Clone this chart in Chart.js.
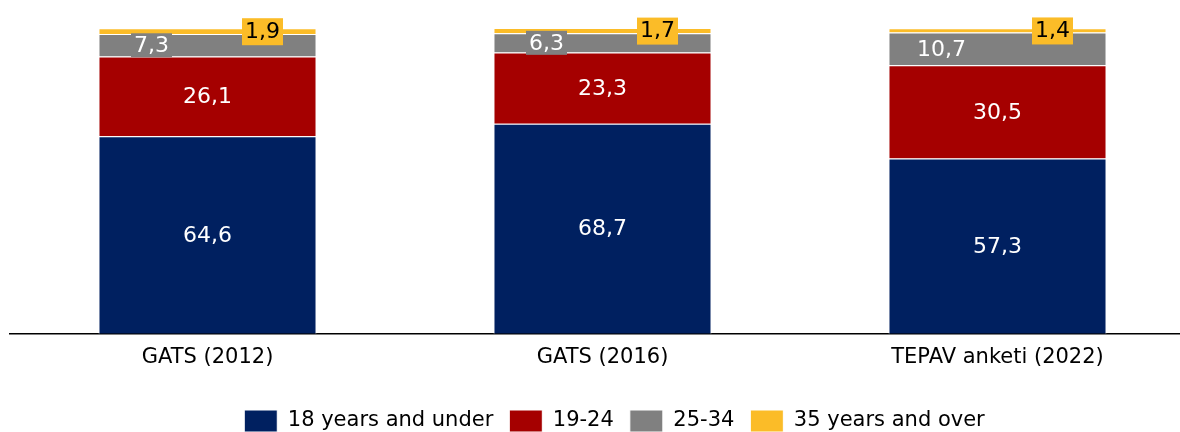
<!DOCTYPE html>
<html>
<head>
<meta charset="utf-8">
<script src="https://cdn.jsdelivr.net/npm/chart.js@4"></script>
<style>
  html, body { margin: 0; padding: 0; background: #fff; overflow: hidden; }
  #wrap { width: 1180px; height: 432px; overflow: hidden; }
</style>
</head>
<body>
<div id="wrap"><canvas id="ageChart" width="1195" height="442"></canvas></div>
<script>
const categories = ["GATS (2012)", "GATS (2016)", "TEPAV anketi (2022)"];
const seriesNames = ["18 years and under", "19-24", "25-34", "35 years and over"];
const under18 = [64.6, 68.7, 57.3];
const age19to24 = [26.1, 23.3, 30.5];
const age25to34 = [7.3, 6.3, 10.7];
const over35 = [1.9, 1.7, 1.4];
const colors = ["#002060", "#A50000", "#808080", "#FBBC28"];

const fmt = v => v.toFixed(1).replace(".", ",");

// value labels on each segment
const segmentLabels = {
    id: "segmentLabels",
    afterDatasetsDraw(chart) {
        const ctx = chart.ctx;
        ctx.save();
        ctx.font = "22px 'DejaVu Sans'";
        ctx.textAlign = "center";
        ctx.textBaseline = "middle";
        chart.data.datasets.forEach((ds, i) => {
            const meta = chart.getDatasetMeta(i);
            meta.data.forEach((bar, j) => {
                const text = fmt(ds.data[j]);
                const cy = (bar.y + bar.base) / 2;
                const w = ctx.measureText(text).width + 6;
                if (i === 3) {
                    const cx = bar.x + 55;
                    ctx.fillStyle = colors[3];
                    ctx.fillRect(cx - w / 2, cy - 13, w, 27);
                    ctx.fillStyle = "#000";
                    ctx.fillText(text, cx, cy + 1);
                } else if (i === 2) {
                    const cx = bar.x - 56;
                    ctx.fillStyle = colors[2];
                    ctx.fillRect(cx - w / 2, cy - 12, w, 24);
                    ctx.fillStyle = "#fff";
                    ctx.fillText(text, cx, cy + 1);
                } else {
                    ctx.fillStyle = "#fff";
                    ctx.fillText(text, bar.x, cy + 1);
                }
            });
        });
        ctx.restore();
    }
};

// legend sits a little right of centre in the original
const shiftLegend = {
    id: "shiftLegend",
    afterLayout(chart) {
        chart.legend.left += 12;
        chart.legend.right += 12;
    }
};

const allSeries = [under18, age19to24, age25to34, over35];

new Chart(document.getElementById("ageChart"), {
    type: "bar",
    data: {
        labels: categories,
        datasets: allSeries.map((vals, i) => ({
            label: seriesNames[i],
            data: vals,
            backgroundColor: colors[i],
            borderColor: "#fff",
            borderWidth: 1,
            barPercentage: 0.552,
            categoryPercentage: 1
        }))
    },
    options: {
        responsive: false,
        animation: false,
        layout: { padding: { left: 10, top: 28, right: 0, bottom: 0 } },
        scales: {
            x: {
                stacked: true,
                grid: { display: false },
                border: { color: "#000", width: 1.5 },
                ticks: { color: "#000", font: { family: "DejaVu Sans", size: 21 }, padding: 3 },
                afterFit(scale) { scale.height += 21; }
            },
            y: {
                stacked: true,
                display: false,
                min: 0,
                max: 100
            }
        },
        plugins: {
            legend: {
                position: "bottom",
                labels: {
                    color: "#000",
                    boxWidth: 33,
                    boxHeight: 22,
                    padding: 16,
                    font: { family: "DejaVu Sans", size: 21 }
                }
            },
            tooltip: { enabled: false }
        }
    },
    plugins: [segmentLabels, shiftLegend]
});
</script>
</body>
</html>
